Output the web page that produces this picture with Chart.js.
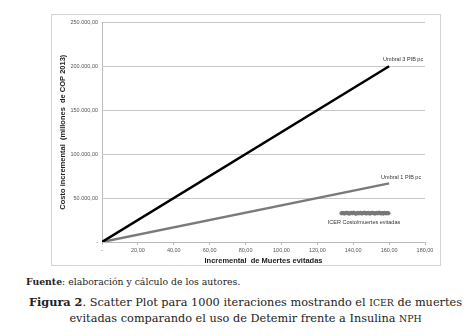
<!DOCTYPE html>
<html>
<head>
<meta charset="utf-8">
<script src="https://cdn.jsdelivr.net/npm/chart.js@4"></script>
<style>
  body { margin: 0; background: #fff; width: 471px; height: 336px; position: relative; overflow: hidden; }
  #box { position: absolute; left: 51px; top: 14px; width: 388px; height: 250px; border: 1px solid #d4d4d4; }
  #fuente { position: absolute; left: 26px; top: 276px; font: 9.3px "DejaVu Serif", serif; color: #222; }
  #caption { position: absolute; left: 10px; top: 294px; width: 471px; text-align: center; font: 11.3px/16px "DejaVu Serif", serif; color: #222; }
  .sc { font-size: 9.3px; }
</style>
</head>
<body>
<div id="box"><canvas id="chart"></canvas></div>
<div id="fuente"><b>Fuente</b>: elaboración y cálculo de los autores.</div>
<div id="caption"><b>Figura 2</b>. Scatter Plot para 1000 iteraciones mostrando el <span class="sc">ICER</span> de muertes<br>evitadas comparando el uso de Detemir frente a Insulina <span class="sc">NPH</span></div>
<script>
// umbrales (lineas desde el origen)
const umbral3X = [0, 160];
const umbral3Y = [0, 200000];
const umbral1X = [0, 160];
const umbral1Y = [0, 66700];
// nube ICER (muertes evitadas, costo)
const icerX = [133.5, 134.2, 135, 135.7, 136.5, 137.2, 138, 138.7, 139.5, 140.2, 141, 141.7, 142.5, 143.2, 144, 144.7,
               145.5, 146.2, 147, 147.7, 148.5, 149.2, 150, 150.7, 151.5, 152.2, 153, 153.7, 154.5, 155.2, 156, 156.7,
               157.5, 158.2, 159, 159.6];
const icerY = [32700, 33000, 32500, 32900, 33200, 32600, 32400, 33100, 32800, 33300, 32600, 32300, 33000, 32700, 33200, 32500,
               32900, 33300, 32600, 32800, 33100, 32400, 32900, 33200, 32700, 32500, 33000, 32800, 33300, 32600, 32900, 32400,
               33100, 32700, 32900, 32800];
const xTicks = [0, 20, 40, 60, 80, 100, 120, 140, 160, 180];

const fmt = v => v === 0 ? '-' : v.toLocaleString('de-DE', {minimumFractionDigits: 2, maximumFractionDigits: 2});
const pts = (xs, ys) => xs.map((x, i) => ({x: x, y: ys[i]}));

// etiquetas junto a las series
const labelPlugin = {
  id: 'labels',
  afterDatasetsDraw(chart) {
    const c = chart.ctx, xs = chart.scales.x, ys = chart.scales.y;
    c.save();
    c.font = '5.5px "Liberation Sans", Arial';
    c.fillStyle = '#333';
    c.textBaseline = 'middle';
    c.fillText('Umbral 3 PIB pc', xs.getPixelForValue(umbral3X[1]) - 6, ys.getPixelForValue(umbral3Y[1]) - 7);
    c.fillText('Umbral 1 PIB pc', xs.getPixelForValue(umbral1X[1]) - 8, ys.getPixelForValue(umbral1Y[1]) - 6);
    c.textAlign = 'center';
    c.fillText('ICER Costo/muertes evitadas', xs.getPixelForValue(146), ys.getPixelForValue(32800) + 9);
    c.restore();
  }
};

new Chart(document.getElementById('chart'), {
  type: 'scatter',
  data: {
    datasets: [
      { type: 'line', data: pts(umbral3X, umbral3Y), borderColor: '#000', borderWidth: 2.5, pointRadius: 0, fill: false },
      { type: 'line', data: pts(umbral1X, umbral1Y), borderColor: '#7a7a7a', borderWidth: 2.5, pointRadius: 0, fill: false },
      { data: pts(icerX, icerY), backgroundColor: '#777', borderColor: '#777', pointRadius: 1.7 }
    ]
  },
  options: {
    responsive: true,
    maintainAspectRatio: false,
    animation: false,
    layout: { padding: { top: 5, right: 15, left: 0, bottom: 0 } },
    plugins: { legend: { display: false }, tooltip: { enabled: false } },
    scales: {
      x: {
        type: 'linear', min: 0, max: 180,
        afterBuildTicks: s => { s.ticks = xTicks.map(v => ({value: v})); },
        afterFit: s => { s.height = 23; },
        grid: { drawOnChartArea: false, tickLength: 3, color: '#bbb' },
        border: { color: '#bbb' },
        ticks: { callback: fmt, font: { family: 'Liberation Sans', size: 5.5 }, color: '#555', padding: 2, maxRotation: 0 },
        title: { display: true, text: 'Incremental  de Muertes evitadas', font: { family: 'Liberation Sans', size: 7.5, weight: 'bold' }, color: '#222', padding: { top: 0, bottom: 0 } }
      },
      y: {
        min: 0, max: 250000,
        ticks: { stepSize: 50000, callback: fmt, font: { family: 'Liberation Sans', size: 5.5 }, color: '#555', padding: 4 },
        afterFit: s => { s.width = 50; },
        grid: { color: '#c8c8c8', drawTicks: false },
        border: { color: '#bbb' },
        title: { display: true, text: 'Costo incremental  (millones  de COP 2013)', font: { family: 'Liberation Sans', size: 7.5, weight: 'bold' }, color: '#222', padding: { top: 6, bottom: 0 } }
      }
    }
  },
  plugins: [labelPlugin]
});
</script>
</body>
</html>
